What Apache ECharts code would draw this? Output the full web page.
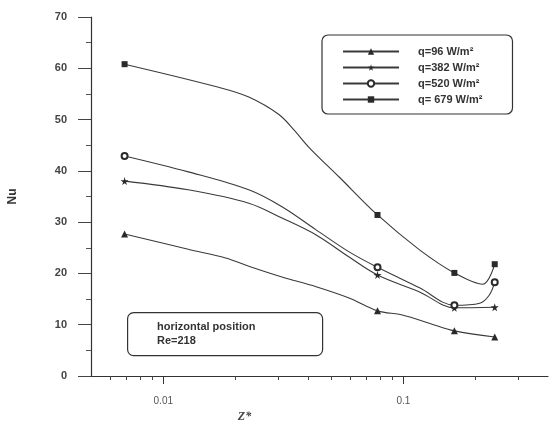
<!DOCTYPE html>
<html>
<head>
<meta charset="utf-8">
<script src="https://cdn.jsdelivr.net/npm/echarts@6/dist/echarts.min.js"></script>
<style>
  html, body { margin: 0; padding: 0; background: #fff; }
  #chart { width: 550px; height: 421px; }
</style>
</head>
<body>
<div id="chart"></div>
<script>
// Dimensionless axial position of the measurement stations
const zMeasured = [0.0069, 0.078, 0.163, 0.24];

// Measured Nusselt numbers at each station, one array per heat flux
const nu96  = [27.7, 12.7, 8.8, 7.6];
const nu382 = [38.0, 19.7, 13.3, 13.4];
const nu520 = [42.9, 21.2, 13.8, 18.3];
const nu679 = [60.8, 31.4, 20.1, 21.8];

// Points along the fitted curves between stations (drawn without markers)
const curve96  = [[0.0127, 24.7], [0.0182, 23.0], [0.0227, 21.4], [0.0312, 19.3], [0.0433, 17.4], [0.0594, 15.2], [0.099, 11.9], [0.128, 10.3]];
const curve382 = [[0.0127, 36.3], [0.0227, 33.7], [0.0312, 30.8], [0.0433, 27.5], [0.0594, 23.2], [0.1167, 16.4]];
const curve520 = [[0.0127, 39.8], [0.0227, 36.3], [0.0312, 33.0], [0.0433, 28.5], [0.0594, 24.2], [0.1167, 17.2], [0.208, 14.2], [0.228, 15.8]];
const curve679 = [[0.017, 56.3], [0.0227, 54.4], [0.0303, 51.0], [0.035, 48.0], [0.0404, 44.6], [0.054, 38.8], [0.1167, 24.6], [0.214, 17.9]];

const seriesNames = ['q=96 W/m²', 'q=382 W/m²', 'q=520 W/m²', 'q= 679 W/m²'];

// Axis tick values
const yTicks = [0, 10, 20, 30, 40, 50, 60, 70];
const xMajorTicks = [0.01, 0.1];
const xMinorTicks = [0.006, 0.007, 0.008, 0.009, 0.02, 0.03, 0.04, 0.05, 0.06, 0.07, 0.08, 0.09, 0.2, 0.3];
const annotation = ['horizontal position', 'Re=218'];

const starPath = 'path://M50,0 L61,35 L98,35 L68,57 L79,91 L50,70 L21,91 L32,57 L2,35 L39,35 Z';

function buildData(measured, curve) {
  const pts = measured.map((y, i) => ({ value: [zMeasured[i], y] }));
  curve.forEach(p => pts.push({ value: p, symbol: 'none' }));
  pts.sort((a, b) => a.value[0] - b.value[0]);
  return pts;
}

const lineColor = '#3a3a3a';
const markerDefs = [
  { sym: 'triangle', size: 7 },
  { sym: starPath, size: 8 },
  { sym: 'emptyCircle', size: 6 },
  { sym: 'rect', size: 6 }
];
const allMeasured = [nu96, nu382, nu520, nu679];
const allCurves = [curve96, curve382, curve520, curve679];

const series = seriesNames.map((name, i) => ({
  name: name,
  type: 'line',
  xAxisIndex: 0,
  smooth: 0.35,
  symbol: markerDefs[i].sym,
  symbolSize: markerDefs[i].size,
  showAllSymbol: true,
  lineStyle: { color: lineColor, width: 1.1 },
  itemStyle: { color: '#2a2a2a', borderWidth: i === 2 ? 1.8 : 0 },
  emphasis: { disabled: true },
  data: buildData(allMeasured[i], allCurves[i])
}));

const chart = echarts.init(document.getElementById('chart'), null, { renderer: 'canvas' });
const axisFont = { fontFamily: 'Liberation Sans', fontWeight: 'bold', color: '#444', fontSize: 11 };

chart.setOption({
  animation: false,
  backgroundColor: '#ffffff',
  grid: { left: 91, right: 2, top: 17, bottom: 45, containLabel: false, outerBoundsMode: 'none' },
  legend: {
    orient: 'vertical',
    left: 322,
    top: 35,
    padding: [11, 30, 9, 20],
    itemGap: 5,
    itemWidth: 56,
    itemHeight: 8,
    borderColor: '#333',
    borderWidth: 1.2,
    borderRadius: 6,
    data: seriesNames,
    textStyle: { fontFamily: 'Liberation Sans', fontWeight: 'bold', fontSize: 11, color: '#333', padding: [0, 0, 0, 14] }
  },
  xAxis: [
    {
      type: 'log',
      logBase: 10,
      min: 0.005,
      max: 0.4,
      position: 'bottom',
      name: 'Z*',
      nameLocation: 'middle',
      nameGap: 32,
      nameTextStyle: { fontFamily: 'Liberation Serif', fontStyle: 'italic', fontWeight: 'bold', fontSize: 12, color: '#444', padding: [0, 150, 0, 0] },
      axisLine: { lineStyle: { color: '#333', width: 1.2 } },
      axisTick: { show: true, customValues: xMajorTicks, length: 8, inside: false, lineStyle: { color: '#333' } },
      axisLabel: { customValues: xMajorTicks, margin: 20, formatter: v => String(v), fontFamily: 'Liberation Sans', fontSize: 10, color: '#555' },
      splitLine: { show: false },
      minorTick: { show: false }
    },
    {
      type: 'log',
      logBase: 10,
      min: 0.005,
      max: 0.4,
      position: 'bottom',
      axisLine: { show: false },
      axisTick: { show: true, customValues: xMinorTicks, length: 4, lineStyle: { color: '#444' } },
      axisLabel: { show: false },
      splitLine: { show: false }
    }
  ],
  yAxis: {
    type: 'value',
    min: 0,
    max: 70,
    interval: 10,
    name: 'Nu',
    nameLocation: 'middle',
    nameGap: 72,
    nameRotate: 90,
    nameTextStyle: { fontFamily: 'Liberation Sans', fontWeight: 'bold', fontSize: 12, color: '#333' },
    axisLine: { show: true, lineStyle: { color: '#333', width: 1.2 } },
    axisTick: { show: true, length: 13, lineStyle: { color: '#444' } },
    minorTick: { show: true, splitNumber: 2, length: 5, lineStyle: { color: '#555' } },
    axisLabel: Object.assign({ margin: 24, formatter: v => yTicks.includes(v) ? String(v) : '' }, axisFont),
    splitLine: { show: false }
  },
  graphic: [
    {
      type: 'rect',
      left: 127,
      top: 312,
      shape: { width: 195, height: 43, r: 6 },
      style: { fill: 'rgba(255,255,255,0)', stroke: '#333', lineWidth: 1.2 },
      z: 10
    },
    {
      type: 'text',
      left: 157,
      top: 320,
      style: {
        text: annotation.join('\n'),
        font: 'bold 11px "Liberation Sans"',
        fill: '#333',
        lineHeight: 14
      },
      z: 11
    }
  ],
  series: series
});
</script>
</body>
</html>
